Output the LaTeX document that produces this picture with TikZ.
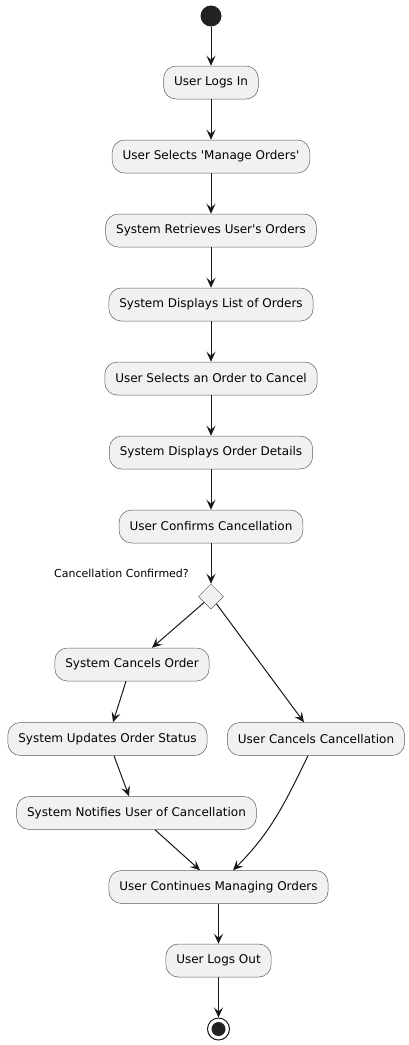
\documentclass[tikz,border=0pt]{standalone}
\usepackage{fontspec}
\setmainfont{DejaVu Sans}
\usepackage{tikz}
\usepackage{xcolor}
\usetikzlibrary{arrows.meta,positioning,shapes.geometric}

\definecolor{actfill}{HTML}{F1F1F1}
\definecolor{actline}{HTML}{181818}
\definecolor{dotfill}{HTML}{222222}

\begin{document}
\begin{tikzpicture}[x=1pt,y=1pt,
    act/.style={rectangle,rounded corners=12.5pt,draw=actline!70,line width=0.5pt,fill=actfill,
        minimum height=33pt,inner xsep=10.5pt,font=\fontsize{12}{14}\selectfont},
    decision/.style={diamond,draw=actline!70,line width=0.5pt,fill=actfill,minimum size=25pt,inner sep=0pt},
    arr/.style={-{Stealth[length=10pt,width=9pt,inset=4pt]},line width=1pt,color=actline}]
    \useasboundingbox (0,0) rectangle (409,-1045);

    % Start and actions
    \node[circle,fill=dotfill,minimum size=21pt,inner sep=0pt] (start) at (211,-16) {};
    \node[act] (login) at (211,-82.5) {User Logs In};
    \node[act] (manage) at (211,-156.5) {User Selects \textquotesingle Manage Orders\textquotesingle};
    \node[act] (retrieve) at (211,-230.5) {System Retrieves User\textquotesingle s Orders};
    \node[act] (list) at (211,-304.5) {System Displays List of Orders};
    \node[act] (select) at (211,-378.5) {User Selects an Order to Cancel};
    \node[act] (details) at (211,-452.5) {System Displays Order Details};
    \node[act] (confirm) at (211,-526.5) {User Confirms Cancellation};

    % Decision
    \node[decision] (dec) at (211,-596.5) {};
    \node[font=\fontsize{11}{13}\selectfont] (declabel) at (121.5,-573) {Cancellation Confirmed?};

    % Branches
    \node[act] (cancel) at (132,-664.5) {System Cancels Order};
    \node[act] (update) at (107.5,-739) {System Updates Order Status};
    \node[act] (notify) at (136.5,-813) {System Notifies User of Cancellation};
    \node[act] (undo) at (316,-739) {User Cancels Cancellation};

    % Merge and end
    \node[act] (continue) at (218.5,-887) {User Continues Managing Orders};
    \node[act] (logout) at (218.5,-960.5) {User Logs Out};
    \node[circle,draw=actline,line width=1pt,fill=white,minimum size=22pt,inner sep=0pt] (stop) at (218.5,-1029) {};
    \node[circle,fill=dotfill,minimum size=14pt,inner sep=0pt] (stopdot) at (stop) {};

    % Arrows
    \draw[arr] (start) -- (login);
    \draw[arr] (login) -- (manage);
    \draw[arr] (manage) -- (retrieve);
    \draw[arr] (retrieve) -- (list);
    \draw[arr] (list) -- (select);
    \draw[arr] (select) -- (details);
    \draw[arr] (details) -- (confirm);
    \draw[arr] (confirm) -- (dec);
    \draw[arr] (dec) -- ([xshift=20pt]cancel.north);
    \draw[arr] (dec) -- ([xshift=-12pt]undo.north);
    \draw[arr] ([xshift=-6pt]cancel.south) -- ([xshift=5.5pt]update.north);
    \draw[arr] ([xshift=6.5pt]update.south) -- ([xshift=-7.5pt]notify.north);
    \draw[arr] ([xshift=18.5pt]notify.south) -- ([xshift=-18.5pt]continue.north);
    \draw[arr] ([xshift=-8pt]undo.south) to[out=-116,in=45] ([xshift=14.5pt]continue.north);
    \draw[arr] (continue) -- (logout);
    \draw[arr] (logout) -- (stop);
\end{tikzpicture}
\end{document}
